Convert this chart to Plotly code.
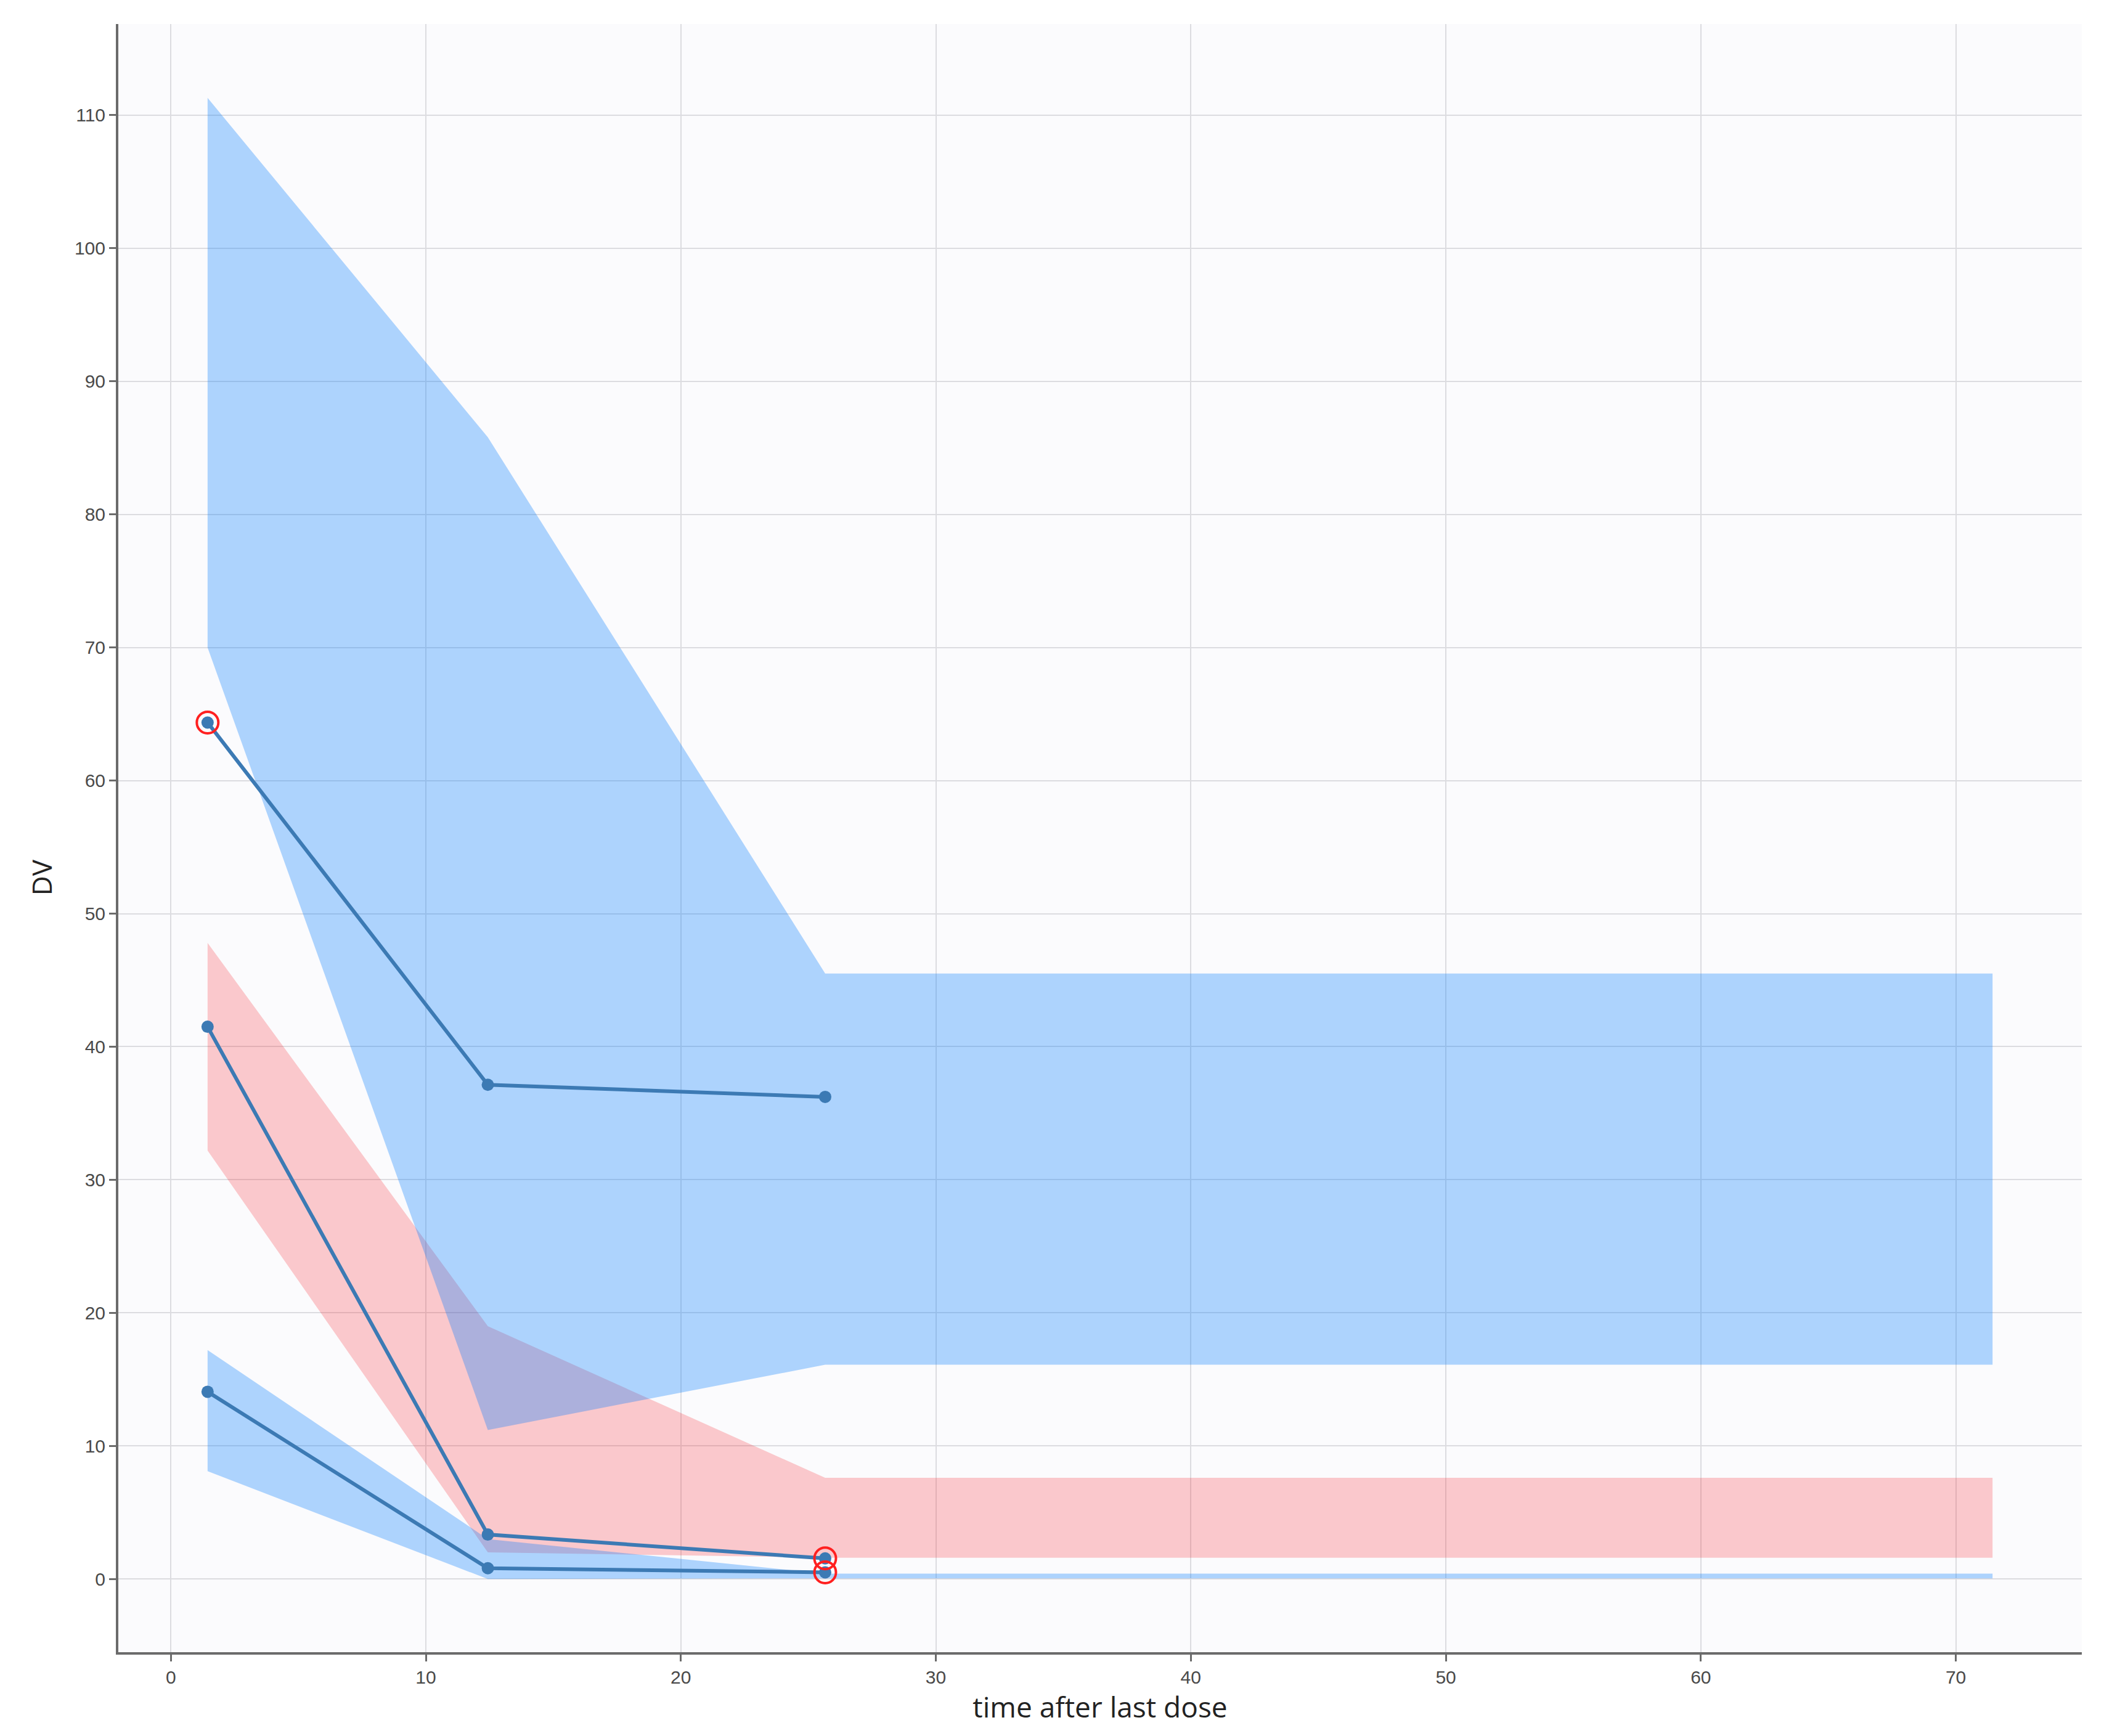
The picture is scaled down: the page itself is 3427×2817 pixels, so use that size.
import plotly.graph_objects as go

# bin times (x) for prediction bands
band_x = [1.44, 12.43, 25.66, 71.44]

# upper-percentile prediction interval (blue)
hi_upper = [111.3, 85.8, 45.5, 45.5]
hi_lower = [70.0, 11.2, 16.1, 16.1]
# median prediction interval (red)
med_upper = [47.8, 19.0, 7.6, 7.6]
med_lower = [32.2, 2.0, 1.6, 1.6]
# lower-percentile prediction interval (blue)
lo_upper = [17.2, 3.0, 0.4, 0.4]
lo_lower = [8.1, 0.0, 0.05, 0.05]

# observed percentiles
obs_x = [1.44, 12.43, 25.66]
obs_hi = [64.36, 37.14, 36.23]
obs_med = [41.5, 3.34, 1.55]
obs_lo = [14.07, 0.81, 0.5]

# points outside the prediction interval
out_x = [1.44, 25.66, 25.66]
out_y = [64.36, 1.55, 0.5]

BLUE_FILL = "rgba(0,122,255,0.31)"
RED_FILL = "rgba(250,0,10,0.2)"
LINE = "#3c7ab4"

fig = go.Figure()


def band(upper, lower, color):
    fig.add_trace(go.Scatter(
        x=band_x + band_x[::-1], y=upper + lower[::-1],
        fill="toself", fillcolor=color, mode="lines",
        line=dict(width=0), hoverinfo="skip", showlegend=False))


band(med_upper, med_lower, RED_FILL)
band(hi_upper, hi_lower, BLUE_FILL)
band(lo_upper, lo_lower, BLUE_FILL)

for ys in (obs_hi, obs_med, obs_lo):
    fig.add_trace(go.Scatter(
        x=obs_x, y=ys, mode="lines+markers",
        line=dict(color=LINE, width=6),
        marker=dict(color=LINE, size=20), showlegend=False))

fig.add_trace(go.Scatter(
    x=out_x, y=out_y, mode="markers",
    marker=dict(symbol="circle-open", color="#ff2020", size=35,
                line=dict(width=4, color="#ff2020")),
    showlegend=False))

axis_common = dict(
    showline=True, linecolor="#6b6b6b", linewidth=4,
    ticks="outside", ticklen=11, tickwidth=3, tickcolor="#6b6b6b",
    showgrid=True, gridcolor="#dcdce0", gridwidth=2,
    zeroline=False,
    tickfont=dict(family="Liberation Sans, Arial", size=30, color="#4a4a4a"),
    dtick=10,
)

fig.update_layout(
    width=3427, height=2817,
    margin=dict(l=184, r=57, t=31, b=144),
    paper_bgcolor="white", plot_bgcolor="#fbfbfd",
    xaxis=dict(range=[-2.06, 74.94],
               title=dict(text="time after last dose",
                          font=dict(family="Open Sans", size=46, color="#222222"),
                          standoff=16),
               **axis_common),
    yaxis=dict(range=[-5.5, 116.85], **axis_common),
    annotations=[dict(
        text="DV", textangle=-90, showarrow=False,
        xref="paper", yref="paper", x=-0.039, y=0.476,
        xanchor="center", yanchor="middle",
        font=dict(family="Open Sans", size=44, color="#222222"))],
)

fig.write_html("out.html")
